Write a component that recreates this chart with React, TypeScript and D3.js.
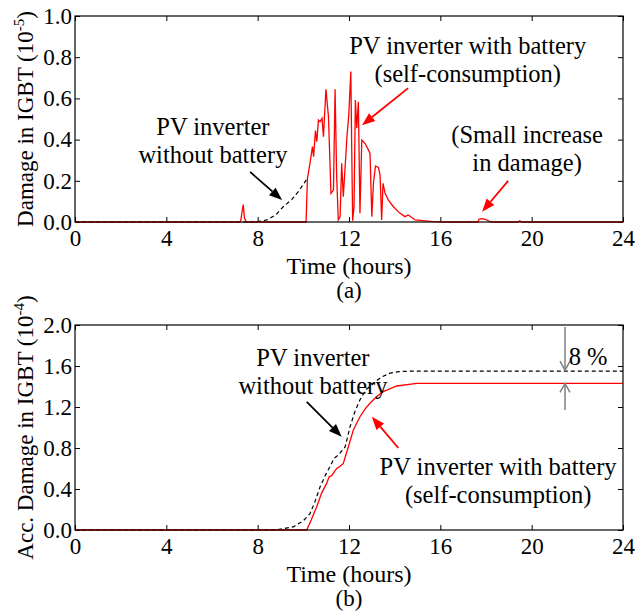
import React, { useEffect, useRef } from 'react';
import * as d3 from 'd3';

// panel (a): damage per time step
const batHours = [0, 7.25, 7.33, 7.37, 7.42, 7.5, 10.12, 10.18, 10.29, 10.40, 10.45, 10.53, 10.59, 10.66, 10.73, 10.82, 10.88, 10.99, 11.10, 11.21, 11.32, 11.39, 11.46, 11.53, 11.61, 11.68, 11.75, 11.84, 11.91, 11.99, 12.08, 12.12, 12.16, 12.22, 12.28, 12.34, 12.41, 12.48, 12.56, 12.70, 12.85, 12.92, 13.00, 13.07, 13.16, 13.29, 13.36, 13.43, 13.49, 13.58, 13.72, 13.94, 14.24, 14.45, 14.60, 14.89, 15.69, 16.2, 17.65, 17.7, 17.85, 18.0, 18.15, 18.3, 19.4, 19.48, 19.55, 24];
const batDamage = [0, 0, 0.06, 0.085, 0.02, 0, 0, 0.212, 0.285, 0.366, 0.317, 0.444, 0.39, 0.495, 0.487, 0.503, 0.414, 0.644, 0.513, 0.139, 0.155, 0.644, 0.22, 0.01, 0.026, 0.285, 0.123, 0.285, 0.414, 0.52, 0.73, 0.35, 0.006, 0.074, 0.592, 0.455, 0.584, 0.042, 0.398, 0.382, 0.35, 0.333, 0.026, 0.188, 0.272, 0.265, 0.228, 0.01, 0.188, 0.139, 0.107, 0.074, 0.042, 0.026, 0.034, 0.01, 0.002, 0, 0, 0.014, 0.016, 0.012, 0.003, 0, 0, 0.006, 0, 0];
const noBatHours = [0, 7.9, 8.4, 8.8, 9.12, 9.5, 9.8, 10.18];
const noBatDamage = [0, 0, 0.01, 0.035, 0.074, 0.11, 0.15, 0.212];

// panel (b): accumulated damage
const noBatAccHours = [0, 8.5, 9.0, 9.56, 10.0, 10.29, 10.5, 10.73, 11.0, 11.17, 11.35, 11.53, 11.83, 12.05, 12.25, 12.48, 12.75, 13.07, 13.4, 13.8, 14.2, 14.67, 16, 24];
const noBatAcc = [0, 0, 0.008, 0.03, 0.09, 0.16, 0.27, 0.42, 0.55, 0.62, 0.70, 0.73, 0.81, 1.01, 1.15, 1.27, 1.37, 1.43, 1.49, 1.53, 1.545, 1.55, 1.55, 1.55];
const batAccHours = [0, 10.15, 10.35, 10.59, 10.8, 11.02, 11.13, 11.24, 11.46, 11.6, 11.75, 11.97, 12.19, 12.48, 12.7, 12.92, 13.2, 13.5, 14.09, 14.97, 16, 24];
const batAcc = [0, 0, 0.1, 0.23, 0.36, 0.455, 0.52, 0.53, 0.6, 0.62, 0.65, 0.81, 0.976, 1.105, 1.18, 1.236, 1.30, 1.35, 1.405, 1.43, 1.43, 1.43];

const hourTicks = [0, 4, 8, 12, 16, 20, 24];
const damageTicks = [0, 0.2, 0.4, 0.6, 0.8, 1.0];
const accTicks = [0, 0.4, 0.8, 1.2, 1.6, 2.0];

const FONT = "'Liberation Serif', 'Times New Roman', serif";
const FS = 23;
const NOTE_FS = 24.5;

type Pt = [number, number];

export default function App() {
  const ref = useRef<SVGSVGElement>(null);

  useEffect(() => {
    const svg = d3.select(ref.current);
    svg.selectAll('*').remove();

    const x0 = 75, x1 = 623;

    const drawPanel = (
      top: number, bottom: number, yMax: number, yTicks: number[],
      ylabel: string, sup: string, sub: string
    ) => {
      const x = d3.scaleLinear().domain([0, 24]).range([x0, x1]);
      const y = d3.scaleLinear().domain([0, yMax]).range([bottom, top]);
      const g = svg.append('g');

      const fmt = (d: any) => d3.format('.1f')(d);
      const bx = g.append('g').attr('transform', `translate(0,${bottom})`)
        .call(d3.axisBottom(x).tickValues(hourTicks).tickSize(-5).tickSizeOuter(0).tickPadding(8));
      const tx = g.append('g').attr('transform', `translate(0,${top})`)
        .call(d3.axisTop(x).tickValues(hourTicks).tickSize(-5).tickSizeOuter(0).tickFormat(() => ''));
      const ly = g.append('g').attr('transform', `translate(${x0},0)`)
        .call(d3.axisLeft(y).tickValues(yTicks).tickSize(-5).tickSizeOuter(0).tickPadding(3).tickFormat(fmt));
      const ry = g.append('g').attr('transform', `translate(${x1},0)`)
        .call(d3.axisRight(y).tickValues(yTicks).tickSize(-5).tickSizeOuter(0).tickFormat(() => ''));
      [bx, tx, ly, ry].forEach(a => {
        a.attr('font-family', null).attr('font-size', null);
        a.select('.domain').remove();
        a.selectAll('line').attr('stroke', '#000');
        a.selectAll('text').attr('fill', '#000');
      });

      g.append('text').attr('x', (x0 + x1) / 2).attr('y', bottom + 52)
        .attr('text-anchor', 'middle').attr('font-size', 24).text('Time (hours)');

      const yl = g.append('text')
        .attr('transform', `translate(33,${(top + bottom) / 2}) rotate(-90)`)
        .attr('text-anchor', 'middle');
      yl.append('tspan').text(ylabel);
      yl.append('tspan').attr('font-size', 15).attr('dy', -9).text(sup);
      yl.append('tspan').attr('dy', 9).text(')');

      g.append('text').attr('x', (x0 + x1) / 2).attr('y', bottom + 76)
        .attr('text-anchor', 'middle').text(sub);

      return { g, x, y };
    };

    const addLine = (g: any, x: any, y: any, hs: number[], vs: number[], color: string, dashed: boolean) => {
      const line = d3.line<number>().x((_, i) => x(hs[i])).y(v => y(v));
      g.append('path').attr('d', line(vs)).attr('fill', 'none')
        .attr('stroke', color).attr('stroke-width', dashed ? 1.2 : 1.3)
        .attr('stroke-dasharray', dashed ? '4,3' : null);
    };

    const addText = (g: any, x: any, y: any, at: Pt, lines: string[], anchor = 'middle') => {
      lines.forEach((t, i) => {
        g.append('text').attr('x', x(at[0])).attr('y', y(at[1]) + i * 28)
          .attr('text-anchor', anchor).attr('font-size', NOTE_FS).text(t);
      });
    };

    const addArrow = (g: any, x: any, y: any, from: Pt, to: Pt, color: string) => {
      const ax = x(from[0]), ay = y(from[1]), bx = x(to[0]), by = y(to[1]);
      const ang = Math.atan2(by - ay, bx - ax);
      const L = 13, W = 5;
      const cx = bx - L * Math.cos(ang), cy = by - L * Math.sin(ang);
      g.append('line').attr('x1', ax).attr('y1', ay).attr('x2', cx).attr('y2', cy)
        .attr('stroke', color).attr('stroke-width', 1.8);
      const p1: Pt = [cx + W * Math.sin(ang), cy - W * Math.cos(ang)];
      const p2: Pt = [cx - W * Math.sin(ang), cy + W * Math.cos(ang)];
      g.append('path').attr('d', `M${bx},${by}L${p1[0]},${p1[1]}L${p2[0]},${p2[1]}Z`).attr('fill', color);
    };

    const addOpenArrow = (g: any, x: any, y: any, from: Pt, to: Pt, color: string) => {
      const ax = x(from[0]), ay = y(from[1]), bx = x(to[0]), by = y(to[1]);
      const dir = Math.sign(by - ay);
      g.append('line').attr('x1', ax).attr('y1', ay).attr('x2', bx).attr('y2', by)
        .attr('stroke', color).attr('stroke-width', 1.5);
      g.append('path').attr('d', `M${bx - 5},${by - dir * 9}L${bx},${by}L${bx + 5},${by - dir * 9}`)
        .attr('fill', 'none').attr('stroke', color).attr('stroke-width', 1.5);
    };

    // (a)
    const a = drawPanel(16, 222, 1.0, damageTicks, 'Damage in IGBT (10', '-5', '(a)');
    addLine(a.g, a.x, a.y, noBatHours, noBatDamage, '#000', true);
    addLine(a.g, a.x, a.y, batHours, batDamage, '#ff0000', false);
    addText(a.g, a.x, a.y, [17.2, 0.815], ['PV inverter with battery', '(self-consumption)']);
    addArrow(a.g, a.x, a.y, [14.59, 0.65], [12.57, 0.47], '#ff0000');
    addText(a.g, a.x, a.y, [6.04, 0.42], ['PV inverter', 'without battery']);
    addArrow(a.g, a.x, a.y, [7.67, 0.243], [9.07, 0.107], '#000');
    addText(a.g, a.x, a.y, [19.8, 0.385], ['(Small increase', 'in damage)']);
    addArrow(a.g, a.x, a.y, [18.97, 0.2], [17.83, 0.05], '#ff0000');

    // (b)
    const b = drawPanel(325, 530, 2.0, accTicks, 'Acc. Damage in  IGBT (10', '-4', '(b)');
    addLine(b.g, b.x, b.y, noBatAccHours, noBatAcc, '#000', true);
    addLine(b.g, b.x, b.y, batAccHours, batAcc, '#ff0000', false);
    addText(b.g, b.x, b.y, [10.42, 1.6], ['PV inverter', 'without battery']);
    addArrow(b.g, b.x, b.y, [10.15, 1.25], [11.68, 0.91], '#000');
    addText(b.g, b.x, b.y, [18.53, 0.535], ['PV inverter with battery', '(self-consumption)']);
    addArrow(b.g, b.x, b.y, [14.16, 0.8], [13.0, 1.105], '#ff0000');
    addText(b.g, b.x, b.y, [21.62, 1.61], ['8 %'], 'start');
    addOpenArrow(b.g, b.x, b.y, [21.46, 1.98], [21.46, 1.56], '#808080');
    addOpenArrow(b.g, b.x, b.y, [21.46, 1.17], [21.46, 1.43], '#808080');

    // frames
    [[16, 222], [325, 530]].forEach(([t, bt]) => {
      svg.append('rect').attr('x', x0).attr('y', t).attr('width', x1 - x0).attr('height', bt - t)
        .attr('fill', 'none').attr('stroke', '#000').attr('stroke-width', 1.2);
    });
  }, []);

  return (
    <svg ref={ref} width={635} height={614}
      style={{ position: 'absolute', left: 0, top: 0, background: '#fff', fontFamily: FONT, fontSize: FS, fill: '#000' }} />
  );
}
